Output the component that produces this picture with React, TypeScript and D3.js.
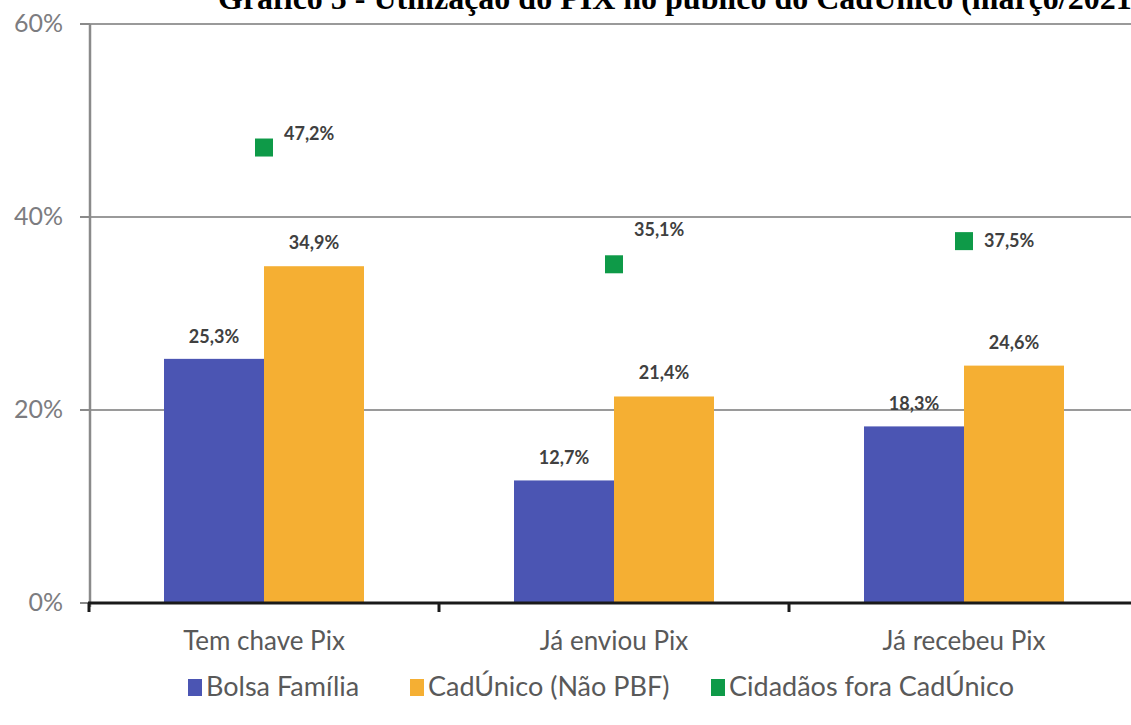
import React, { useEffect, useRef } from "react";
import * as d3 from "d3";

const categories = ["Tem chave Pix", "Já enviou Pix", "Já recebeu Pix"];
const bolsaFamilia = [25.3, 12.7, 18.3];
const cadUnico = [34.9, 21.4, 24.6];
const foraCadUnico = [47.2, 35.1, 37.5];
const yTicks = [0, 20, 40, 60];
const seriesNames = ["Bolsa Família", "CadÚnico (Não PBF)", "Cidadãos fora CadÚnico"];
const seriesColors = ["#4B55B3", "#F5AF33", "#0E9A48"];

const W = 1131;
const H = 725;

// the green labels sit at different heights next to their markers
const greenLabelDy = [-14, -34, 0];

const fmt = (v: number) => v.toFixed(1).replace(".", ",") + "%";

const App: React.FC = () => {
  const svgRef = useRef<SVGSVGElement>(null);

  useEffect(() => {
    if (!svgRef.current) return;
    const svg = d3.select(svgRef.current);
    svg.selectAll("*").remove();

    const font = "Lato, 'Open Sans', sans-serif";

    const x = d3.scaleBand().domain(categories).range([89, 1139]);
    const y = d3.scaleLinear().domain([0, 60]).range([603, 24]);
    const barW = 100;

    // title (cut off at the top like the source)
    svg.append("text")
      .attr("x", 218)
      .attr("y", 9)
      .attr("font-family", "'Liberation Serif', 'Times New Roman', serif")
      .attr("font-weight", "bold")
      .attr("font-size", 32)
      .attr("fill", "#000")
      .text("Gráfico 5 - Utilização do PIX no público do CadÚnico (março/2021)");

    // gridlines
    svg.append("g")
      .selectAll("line")
      .data(yTicks.filter(t => t > 0))
      .join("line")
      .attr("x1", 80)
      .attr("x2", W)
      .attr("y1", d => y(d))
      .attr("y2", d => y(d))
      .attr("stroke", "#9a9a9a")
      .attr("stroke-width", 2);

    // y axis labels
    svg.append("g")
      .selectAll("text")
      .data(yTicks)
      .join("text")
      .attr("x", 63)
      .attr("y", d => y(d) + 8)
      .attr("text-anchor", "end")
      .attr("font-family", font)
      .attr("font-size", 25)
      .attr("fill", "#7c7c80")
      .text(d => d + "%");

    // bars
    const groups = svg.append("g")
      .selectAll("g")
      .data(categories)
      .join("g")
      .attr("transform", d => `translate(${(x(d) || 0) + x.bandwidth() / 2}, 0)`);

    groups.append("rect")
      .attr("x", -barW)
      .attr("y", (d, i) => y(bolsaFamilia[i]))
      .attr("width", barW)
      .attr("height", (d, i) => y(0) - y(bolsaFamilia[i]))
      .attr("fill", seriesColors[0]);

    groups.append("rect")
      .attr("x", 0)
      .attr("y", (d, i) => y(cadUnico[i]))
      .attr("width", barW)
      .attr("height", (d, i) => y(0) - y(cadUnico[i]))
      .attr("fill", seriesColors[1]);

    groups.append("rect")
      .attr("x", -9)
      .attr("y", (d, i) => y(foraCadUnico[i]) - 9)
      .attr("width", 18)
      .attr("height", 18)
      .attr("fill", seriesColors[2]);

    const labelStyle = (sel: any) => sel
      .attr("font-family", font)
      .attr("font-weight", "bold")
      .attr("font-size", 18)
      .attr("fill", "#404040");

    groups.append("text")
      .call(labelStyle)
      .attr("x", -barW / 2)
      .attr("y", (d, i) => y(bolsaFamilia[i]) - 16)
      .attr("text-anchor", "middle")
      .text((d, i) => fmt(bolsaFamilia[i]));

    groups.append("text")
      .call(labelStyle)
      .attr("x", barW / 2)
      .attr("y", (d, i) => y(cadUnico[i]) - 17)
      .attr("text-anchor", "middle")
      .text((d, i) => fmt(cadUnico[i]));

    groups.append("text")
      .call(labelStyle)
      .attr("x", 20)
      .attr("y", (d, i) => y(foraCadUnico[i]) + 6 + greenLabelDy[i])
      .attr("text-anchor", "start")
      .text((d, i) => fmt(foraCadUnico[i]));

    // y axis line and ticks
    svg.append("line")
      .attr("x1", 90).attr("x2", 90)
      .attr("y1", y(60)).attr("y2", y(0) + 4)
      .attr("stroke", "#8a8a8a").attr("stroke-width", 2.5);
    svg.append("g")
      .selectAll("line")
      .data(yTicks)
      .join("line")
      .attr("x1", 80).attr("x2", 90)
      .attr("y1", d => y(d)).attr("y2", d => y(d))
      .attr("stroke", "#8a8a8a").attr("stroke-width", 2);

    // x axis
    svg.append("line")
      .attr("x1", 88).attr("x2", W)
      .attr("y1", y(0)).attr("y2", y(0))
      .attr("stroke", "#1a1a1a").attr("stroke-width", 3);
    svg.append("g")
      .selectAll("line")
      .data(categories)
      .join("line")
      .attr("x1", d => x(d) || 0)
      .attr("x2", d => x(d) || 0)
      .attr("y1", y(0))
      .attr("y2", y(0) + 9)
      .attr("stroke", "#1a1a1a").attr("stroke-width", 3);

    svg.append("g")
      .selectAll("text")
      .data(categories)
      .join("text")
      .attr("x", d => (x(d) || 0) + x.bandwidth() / 2)
      .attr("y", 650)
      .attr("text-anchor", "middle")
      .attr("font-family", font)
      .attr("font-size", 26)
      .attr("fill", "#595959")
      .text(d => d);

    // legend
    const legendX = [188, 410, 711];
    const legend = svg.append("g")
      .selectAll("g")
      .data(seriesNames)
      .join("g")
      .attr("transform", (d, i) => `translate(${legendX[i]}, 686)`);
    legend.append("rect")
      .attr("x", 0).attr("y", -7)
      .attr("width", 14).attr("height", 17)
      .attr("fill", (d, i) => seriesColors[i]);
    legend.append("text")
      .attr("x", 18)
      .attr("y", 10)
      .attr("font-family", font)
      .attr("font-size", 27)
      .attr("fill", "#595959")
      .text(d => d);
  }, []);

  return (
    <div style={{ position: "fixed", left: 0, top: 0, background: "#fff" }}>
      <svg ref={svgRef} width={W} height={H} style={{ display: "block" }} />
    </div>
  );
};

export default App;
